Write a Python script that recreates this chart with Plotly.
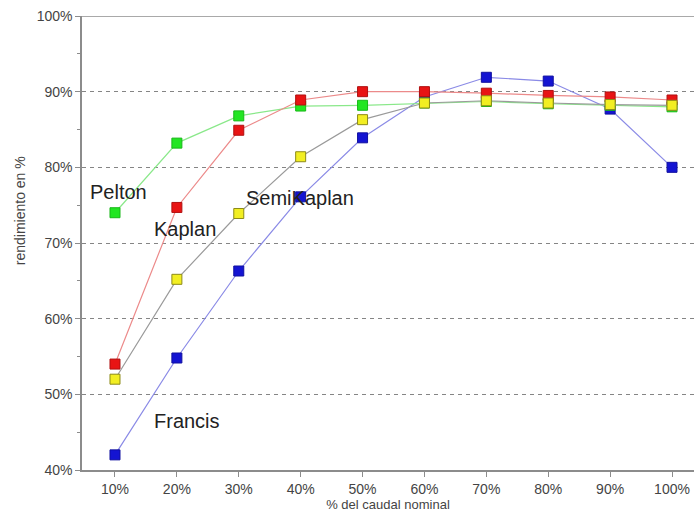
import plotly.graph_objects as go

# Nominal flow fraction (%)
caudal = [10, 20, 30, 40, 50, 60, 70, 80, 90, 100]

# Efficiency (%) per turbine type
pelton = [74.0, 83.2, 86.8, 88.1, 88.2, 88.5, 88.7, 88.4, 88.2, 88.0]
kaplan = [54.0, 74.7, 84.9, 88.9, 90.0, 90.0, 89.8, 89.5, 89.3, 88.9]
semikaplan = [52.0, 65.2, 73.9, 81.4, 86.3, 88.5, 88.8, 88.5, 88.3, 88.2]
francis = [42.0, 54.8, 66.3, 76.1, 83.9, 89.3, 91.9, 91.4, 87.7, 80.0]

tick_vals = [10, 20, 30, 40, 50, 60, 70, 80, 90, 100]
tick_text = ["10%", "20%", "30%", "40%", "50%", "60%", "70%", "80%", "90%", "100%"]
ytick_vals = [40, 50, 60, 70, 80, 90, 100]
ytick_text = ["40%", "50%", "60%", "70%", "80%", "90%", "100%"]

# name, values, line colour, marker fill, marker outline, label text position
series = [
    ("Francis", francis, "#8a8ae6", "#1414d2", "#1010a0", (21.6, 46.5)),
    ("Pelton", pelton, "#8ae88a", "#22e622", "#18b818", (10.5, 76.7)),
    ("Kaplan", kaplan, "#ec8a8a", "#e81414", "#b01010", (21.3, 71.8)),
    ("SemiKaplan", semikaplan, "#9a9a9a", "#f2ee22", "#8c8a18", (39.9, 75.9)),
]

FONT = "Liberation Sans, Arial, sans-serif"

fig = go.Figure()
for name, vals, lc, mc, oc, _ in series:
    fig.add_trace(go.Scatter(
        x=caudal, y=vals, mode="lines+markers", name=name,
        line=dict(color=lc, width=1.2),
        marker=dict(symbol="square", size=10, color=mc, line=dict(color=oc, width=1)),
        showlegend=False,
    ))

for name, _, _, _, _, (tx, ty) in series:
    fig.add_annotation(x=tx, y=ty, text=name, showarrow=False,
                       font=dict(family=FONT, size=20, color="#222222"),
                       xanchor="center", yanchor="middle")

# Y axis title, placed slightly above the vertical centre
fig.add_annotation(xref="paper", yref="paper", x=0, xshift=-62, y=0.57,
                   text="rendimiento en %", textangle=-90, showarrow=False,
                   font=dict(family=FONT, size=14, color="#444444"),
                   xanchor="center", yanchor="middle")

# Top border of the plot area
fig.add_shape(type="line", xref="paper", yref="y", x0=0, x1=1, y0=100, y1=100,
              line=dict(color="#8c8c8c", width=1.5))

fig.update_layout(
    width=694, height=513,
    margin=dict(l=82, r=0, t=16, b=43),
    paper_bgcolor="white", plot_bgcolor="white",
    font=dict(family=FONT, color="#444444"),
)
fig.update_xaxes(
    range=[4.67, 103.55], tickvals=tick_vals, ticktext=tick_text,
    showgrid=False, zeroline=False,
    showline=True, linecolor="#8c8c8c", linewidth=1.5,
    ticks="outside", ticklen=5, tickcolor="#8c8c8c",
    tickfont=dict(size=14, color="#444444"),
    title=dict(text="% del caudal nominal", font=dict(size=13, color="#444444"), standoff=4),
)
fig.update_yaxes(
    range=[40, 100], tickvals=ytick_vals, ticktext=ytick_text,
    showgrid=True, gridcolor="#858585", griddash="4px,4px", gridwidth=1,
    zeroline=False,
    showline=True, linecolor="#8c8c8c", linewidth=1.5,
    ticks="outside", ticklen=5, tickcolor="#8c8c8c",
    minor=dict(tickvals=[45, 55, 65, 75, 85, 95], ticks="outside", ticklen=3,
               tickcolor="#8c8c8c", showgrid=False),
    tickfont=dict(size=14, color="#444444"),
)

fig.write_html("out.html")
